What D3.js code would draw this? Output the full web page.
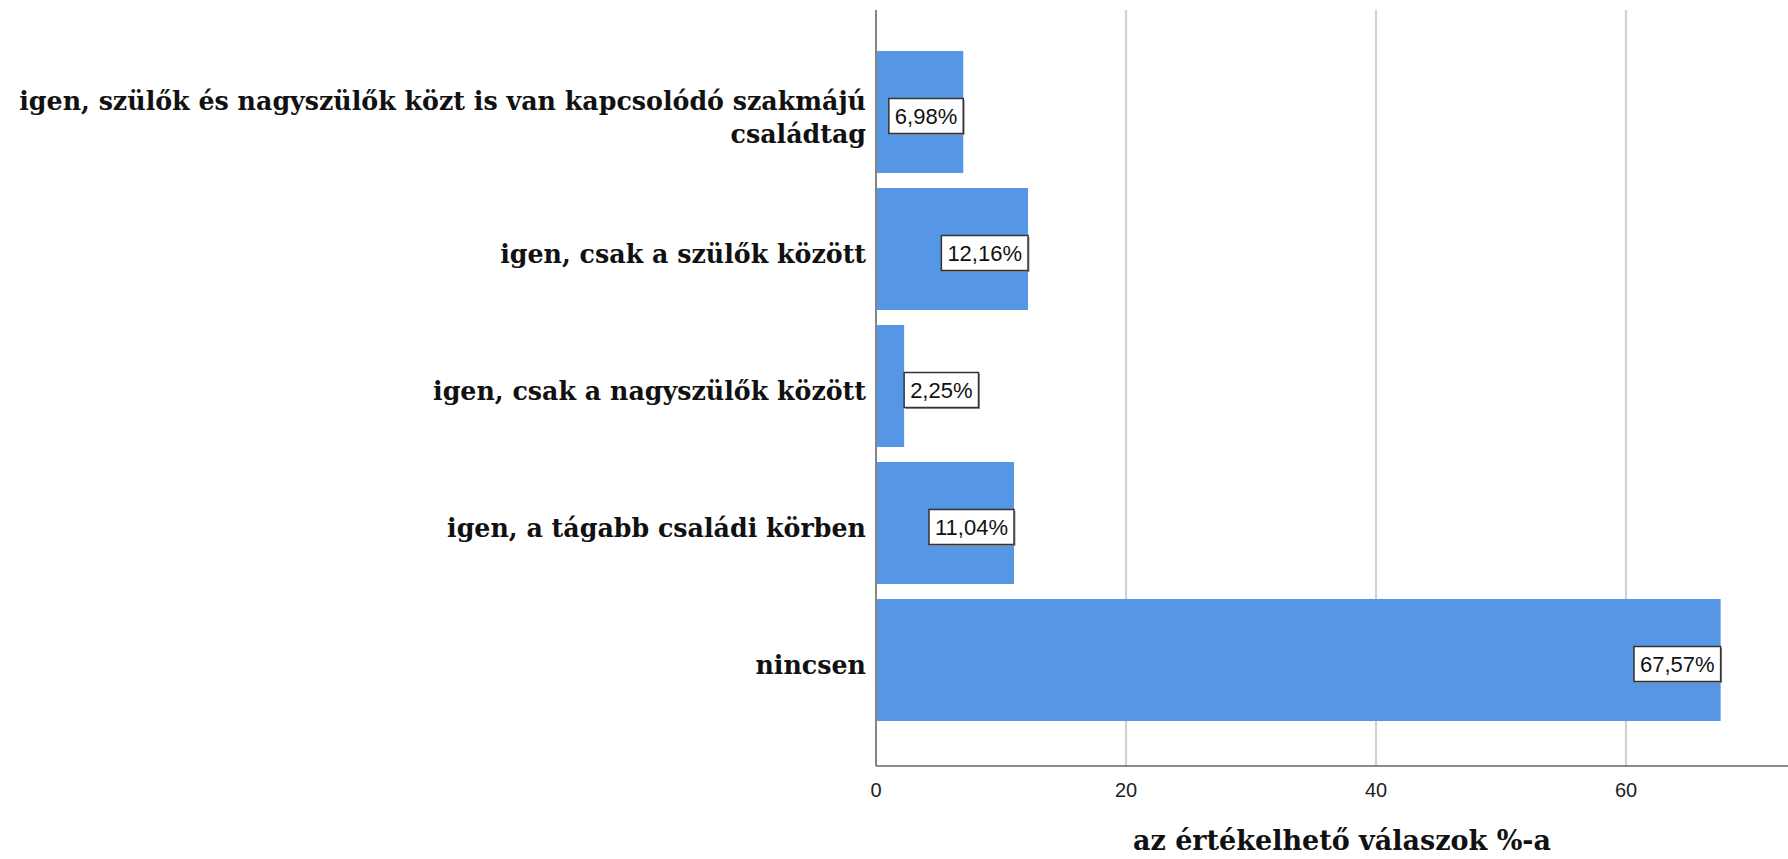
<!DOCTYPE html>
<html>
<head>
<meta charset="utf-8">
<script src="https://cdn.jsdelivr.net/npm/d3@7"></script>
<style>
  html, body { margin: 0; padding: 0; background: #fff; overflow: hidden; }
  svg { display: block; }
  .cat { font-family: "DejaVu Serif", serif; font-weight: bold; font-size: 25.3px; fill: #111; }
  .tick-label { font-family: "Liberation Sans", Arial, sans-serif; font-size: 20px; fill: #222; }
  .val { font-family: "Liberation Sans", Arial, sans-serif; font-size: 22px; fill: #111; }
  .axis-title { font-family: "DejaVu Serif", serif; font-weight: bold; font-size: 27px; fill: #111; }
</style>
</head>
<body>
<svg id="chart" width="1788" height="859"></svg>
<script>
// Answer categories (top to bottom) and their share of valid responses, in percent
const categories = [
  ["igen, szülők és nagyszülők közt is van kapcsolódó szakmájú", "családtag"],
  ["igen, csak a szülők között"],
  ["igen, csak a nagyszülők között"],
  ["igen, a tágabb családi körben"],
  ["nincsen"]
];
const percentages = [6.98, 12.16, 2.25, 11.04, 67.57];
const gridTicks = [20, 40, 60, 80];
const tickLabels = [0, 20, 40, 60];
const xAxisTitle = "az értékelhető válaszok %-a";

const W = 1788, H = 859;
const svg = d3.select("#chart");

const plotTop = 10, plotBottom = 766, plotLeft = 876;

const keys = categories.map((c, i) => i);
const x = d3.scaleLinear().domain([0, 80]).range([plotLeft, plotLeft + 1000]);
const y = d3.scaleBand().domain(keys).range([43.5, 728.5])
  .paddingInner(15 / 137).paddingOuter(7.5 / 137);

// vertical gridlines
svg.append("g").selectAll("line")
  .data(gridTicks)
  .join("line")
  .attr("x1", d => x(d)).attr("x2", d => x(d))
  .attr("y1", plotTop).attr("y2", plotBottom)
  .attr("stroke", "#d2d2d2").attr("stroke-width", 2.2);

// bars
svg.append("g").selectAll("rect")
  .data(percentages)
  .join("rect")
  .attr("x", x(0) + 1)
  .attr("y", (d, i) => y(i))
  .attr("width", d => x(d) - x(0) - 1)
  .attr("height", y.bandwidth())
  .attr("fill", "#5596e5");

// axis lines
svg.append("line")
  .attr("x1", plotLeft).attr("x2", plotLeft)
  .attr("y1", plotTop).attr("y2", plotBottom)
  .attr("stroke", "#666").attr("stroke-width", 1.6);
svg.append("line")
  .attr("x1", plotLeft).attr("x2", W)
  .attr("y1", plotBottom).attr("y2", plotBottom)
  .attr("stroke", "#666").attr("stroke-width", 1.6);

// x tick labels
svg.append("g").selectAll("text")
  .data(tickLabels)
  .join("text")
  .attr("class", "tick-label")
  .attr("x", d => x(d))
  .attr("y", 797)
  .attr("text-anchor", "middle")
  .text(d => d);

// category labels, right-aligned against the axis
const labelG = svg.append("g");
categories.forEach((lines, i) => {
  const cy = y(i) + y.bandwidth() / 2 + 6;
  const lh = 33;
  const t = labelG.append("text")
    .attr("class", "cat")
    .attr("text-anchor", "end");
  lines.forEach((ln, j) => {
    t.append("tspan")
      .attr("x", plotLeft - 10)
      .attr("y", cy + (j - (lines.length - 1) / 2) * lh + 8)
      .text(ln);
  });
});

// value labels in framed boxes at the bar ends
const fmt = v => d3.format(".2f")(v).replace(".", ",") + "%";
const valG = svg.append("g");
percentages.forEach((v, i) => {
  const cy = y(i) + y.bandwidth() / 2 + 4;
  const g = valG.append("g");
  const txt = g.append("text")
    .attr("class", "val")
    .attr("y", cy + 8)
    .text(fmt(v));
  const tw = txt.node().getComputedTextLength();
  const bw = tw + 12, bh = 35;
  const barW = x(v) - x(0);
  const bx = bw < barW - 4 ? x(v) - bw : x(v);
  g.insert("rect", "text")
    .attr("x", bx + 1.5).attr("y", cy - bh / 2 + 1.5)
    .attr("width", bw).attr("height", bh)
    .attr("fill", "#9a9a9a");
  g.insert("rect", "text")
    .attr("x", bx).attr("y", cy - bh / 2)
    .attr("width", bw).attr("height", bh)
    .attr("fill", "#fff").attr("stroke", "#333").attr("stroke-width", 1.5);
  txt.attr("x", bx + 6);
});

// x axis title
svg.append("text")
  .attr("class", "axis-title")
  .attr("x", 1342)
  .attr("y", 850)
  .attr("text-anchor", "middle")
  .text(xAxisTitle);
</script>
</body>
</html>
